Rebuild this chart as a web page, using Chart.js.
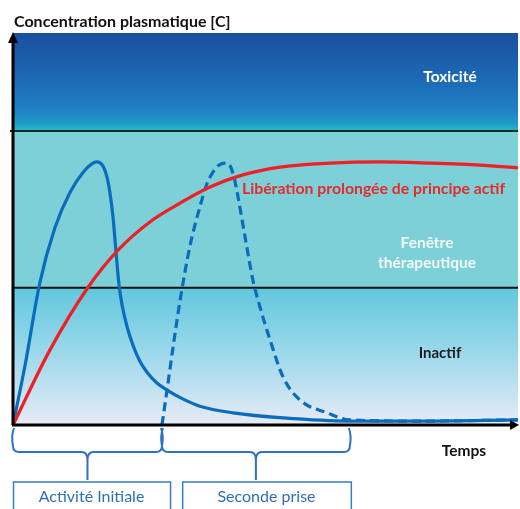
<!DOCTYPE html>
<html><head><meta charset="utf-8">
<script src="https://cdn.jsdelivr.net/npm/chart.js@4.4.0/dist/chart.umd.min.js"></script>
<style>html,body{margin:0;padding:0;background:#fff;overflow:hidden}canvas{display:block}</style>
</head><body>
<canvas id="c" width="520" height="509"></canvas>
<script>
// ---- data (x: time 0-100, y: plasma concentration 0-100) ----
const initialTime = [0,2.4,5.3,8.3,11.3,13.9,15.6,16.6,17.8,18.6,19.2,19.8,20.4,21,21.6,22.6,23.8,25.1,26.5,28.5,30.5,33.7,37,43.6,53.5,66.7,80.6,100];
const initialConc = [0,15.3,36.2,50.3,59.4,64.5,66.6,67.1,66.1,63.3,59.2,53.1,44.1,35.7,30.6,25,20.2,16.3,13.5,10.7,8.9,6.6,4.8,3.1,1.8,1,1,1.3];
const secondTime  = [29.5,30.5,31.7,33.1,35,37,38.4,39.6,40.8,42,43,43.8,44.6,45.5,46.3,47.5,48.9,50.9,53.5,56.8,62.2,66.7,80.6,100];
const secondConc  = [0,8.9,19.9,31.9,45.4,55.6,61.5,64.5,66.3,66.8,66.1,63,57.9,51.3,45.4,37,30.1,21.7,12.2,6.4,3.1,1.3,1,1.3];
const sustainedTime = [0,7.3,14.9,20.8,27.1,33.1,39,45.5,52.9,62.8,72.7,82.6,92.5,100];
const sustainedConc = [0,19.1,35.2,44.6,51.8,56.6,60.7,63.8,65.8,66.8,67.1,66.8,66.3,65.6];
const thresholds = [35, 75];           // inactive / therapeutic / toxic limits
const phaseBounds = [[0, 29.5], [29.5, 66.7]];
const phaseLabels = ['Activité Initiale', 'Seconde prise'];
const yTitle = 'Concentration plasmatique [C]';
const xTitle = 'Temps';
const sustainedLabel = 'Libération prolongée de principe actif';

const pts = (xs, ys) => xs.map((x, i) => ({x, y: ys[i]}));
const FONT = 'Lato, "Open Sans", sans-serif';

const decor = {
  id: 'decor',
  beforeDatasetsDraw(chart) {
    const {ctx, chartArea: a, scales: {x, y}} = chart;
    const yLow = y.getPixelForValue(thresholds[0]);
    const yHigh = y.getPixelForValue(thresholds[1]);
    ctx.save();
    let g = ctx.createLinearGradient(0, a.top, 0, yHigh);
    g.addColorStop(0, '#1a4f9e');
    g.addColorStop(0.5, '#1d6bb7');
    g.addColorStop(0.78, '#1f80c5');
    g.addColorStop(0.92, '#1e9cc9');
    g.addColorStop(1, '#25bcc8');
    ctx.fillStyle = g;
    ctx.fillRect(a.left, a.top, a.right - a.left, yHigh - a.top);
    ctx.fillStyle = '#7dcfd8';
    ctx.fillRect(a.left, yHigh, a.right - a.left, yLow - yHigh);
    g = ctx.createLinearGradient(0, yLow, 0, a.bottom);
    g.addColorStop(0, '#62c7dc');
    g.addColorStop(0.5, '#9fd9ec');
    g.addColorStop(1, '#e8ebf6');
    ctx.fillStyle = g;
    ctx.fillRect(a.left, yLow, a.right - a.left, a.bottom - yLow);
    ctx.lineWidth = 2;
    ctx.strokeStyle = '#0f2a22';
    ctx.beginPath(); ctx.moveTo(a.left - 3, yHigh); ctx.lineTo(a.right, yHigh); ctx.stroke();
    ctx.strokeStyle = '#111';
    ctx.beginPath(); ctx.moveTo(a.left, yLow); ctx.lineTo(a.right, yLow); ctx.stroke();
    ctx.restore();
  },
  afterDatasetsDraw(chart) {
    const {ctx, chartArea: a, scales: {x, y}} = chart;
    ctx.save();
    ctx.strokeStyle = '#000'; ctx.fillStyle = '#000'; ctx.lineWidth = 3;
    ctx.beginPath(); ctx.moveTo(a.left, a.bottom); ctx.lineTo(a.left, a.top + 8); ctx.stroke();
    ctx.beginPath(); ctx.moveTo(a.left - 5, a.top + 10); ctx.lineTo(a.left, a.top - 1); ctx.lineTo(a.left + 5, a.top + 10); ctx.closePath(); ctx.fill();
    ctx.beginPath(); ctx.moveTo(a.left - 1, a.bottom); ctx.lineTo(a.right - 6, a.bottom); ctx.stroke();
    ctx.beginPath(); ctx.moveTo(a.right - 8, a.bottom - 5); ctx.lineTo(a.right + 1, a.bottom); ctx.lineTo(a.right - 8, a.bottom + 5); ctx.closePath(); ctx.fill();

    ctx.textBaseline = 'middle';
    ctx.fillStyle = '#111';
    ctx.font = 'bold 16px ' + FONT;
    ctx.textAlign = 'left';
    ctx.fillText(yTitle, 14, 22);
    ctx.textAlign = 'center';
    ctx.font = 'bold 15.5px ' + FONT;
    ctx.fillText(xTitle, 464, 451);
    ctx.fillStyle = '#ffffff';
    ctx.font = 'bold 15.5px ' + FONT;
    ctx.fillText('Toxicité', 450, 77);
    ctx.fillStyle = '#f2fafa';
    ctx.font = 'bold 15.5px ' + FONT;
    ctx.fillText('Fenêtre', 427, 243);
    ctx.fillText('thérapeutique', 427, 263);
    ctx.fillStyle = '#1c1c1c';
    ctx.font = 'bold 15px ' + FONT;
    ctx.fillText('Inactif', 440, 353);
    ctx.fillStyle = '#e52b2b';
    ctx.font = 'bold 15.8px ' + FONT;
    ctx.textAlign = 'left';
    ctx.fillText(sustainedLabel, 242, 189);

    ctx.strokeStyle = '#2f73bf'; ctx.lineWidth = 2;
    const y0 = a.bottom + 3, ym = a.bottom + 27, yt = a.bottom + 55, r = 6;
    phaseBounds.forEach(([v1, v2]) => {
      const x1 = x.getPixelForValue(v1), x2 = x.getPixelForValue(v2), xm = (x1 + x2) / 2;
      ctx.beginPath();
      ctx.moveTo(x1 + 1, y0);
      ctx.quadraticCurveTo(x1 - 2, y0 + 8, x1, ym - r);
      ctx.quadraticCurveTo(x1, ym, x1 + r, ym);
      ctx.lineTo(xm - r, ym);
      ctx.quadraticCurveTo(xm, ym, xm, ym + 8);
      ctx.lineTo(xm, yt);
      ctx.moveTo(xm, ym + 8);
      ctx.quadraticCurveTo(xm, ym, xm + r, ym);
      ctx.lineTo(x2 - r, ym);
      ctx.quadraticCurveTo(x2, ym, x2, ym - r);
      ctx.quadraticCurveTo(x2 + 2, y0 + 8, x2 - 1, y0);
      ctx.stroke();
    });
    const boxes = [[0, 31.1], [33.5, 66.9]];
    ctx.strokeStyle = '#3a7cc4'; ctx.lineWidth = 1.5;
    ctx.font = '16px ' + FONT; ctx.fillStyle = '#2f6fb8'; ctx.textAlign = 'center';
    boxes.forEach(([v1, v2], i) => {
      const x1 = x.getPixelForValue(v1), x2 = x.getPixelForValue(v2);
      ctx.strokeRect(x1 + 0.5, a.bottom + 57, x2 - x1, 40);
      ctx.fillText(phaseLabels[i], (x1 + x2) / 2, a.bottom + 72);
    });
    ctx.restore();
  }
};

new Chart(document.getElementById('c'), {
  type: 'line',
  data: {
    datasets: [
      {label: 'sustained', data: pts(sustainedTime, sustainedConc), borderColor: '#ee2024', borderWidth: 3.2,
       pointRadius: 0, cubicInterpolationMode: 'monotone', clip: false},
      {label: 'second', data: pts(secondTime, secondConc), borderColor: '#0a6cbd', borderWidth: 3.2,
       borderDash: [9, 5], pointRadius: 0, cubicInterpolationMode: 'monotone', clip: false},
      {label: 'initial', data: pts(initialTime, initialConc), borderColor: '#0a6cbd', borderWidth: 3.2,
       pointRadius: 0, cubicInterpolationMode: 'monotone', clip: false}
    ]
  },
  options: {
    responsive: false, animation: false, events: [],
    layout: {autoPadding: false, padding: {left: 13, right: 2, top: 33, bottom: 84}},
    plugins: {legend: {display: false}, tooltip: {enabled: false}},
    scales: {
      x: {type: 'linear', min: 0, max: 100, display: false},
      y: {type: 'linear', min: 0, max: 100, display: false}
    }
  },
  plugins: [decor]
});
</script>
</body></html>
